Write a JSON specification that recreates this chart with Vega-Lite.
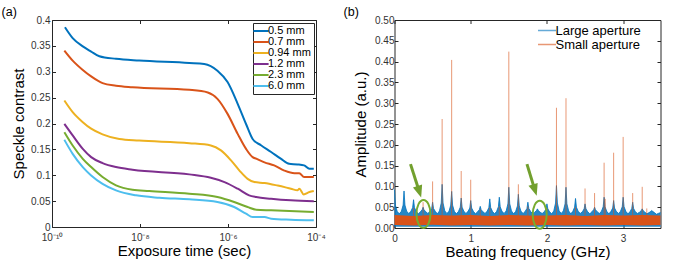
{
 "$schema": "https://vega.github.io/schema/vega-lite/v6.json",
 "padding": {"left": 1, "top": 5, "right": 0, "bottom": 0},
 "spacing": 16.5,
 "config": {
  "font": "Liberation Sans",
  "view": {"stroke": "#262626", "strokeWidth": 1},
  "axis": {"grid": false, "domain": false, "labelFontSize": 10, "labelColor": "#333333", "tickColor": "#262626", "titleFontSize": 15, "titleFontWeight": "normal", "titleColor": "#000000", "labelFlush": false, "labelOverlap": false, "tickSize": -3.5, "tickWidth": 1},
  "title": {"fontSize": 12.5, "fontWeight": "normal", "anchor": "start", "frame": "bounds", "offset": -3, "dx": -10, "color": "#000000"}
 },
 "resolve": {"scale": {"color": "independent"}, "legend": {"color": "independent"}},
 "datasets": {
  "contrast": [
   {"s":"0.5 mm","t":1.97e-10,"c":0.386},{"s":"0.5 mm","t":2.95e-10,"c":0.365},{"s":"0.5 mm","t":5.01e-10,"c":0.349},{"s":"0.5 mm","t":7.76e-10,"c":0.339},{"s":"0.5 mm","t":1.19e-9,"c":0.330},{"s":"0.5 mm","t":2.85e-9,"c":0.325},{"s":"0.5 mm","t":9.55e-9,"c":0.3216},{"s":"0.5 mm","t":1.32e-7,"c":0.317},{"s":"0.5 mm","t":2.88e-7,"c":0.315},{"s":"0.5 mm","t":5.75e-7,"c":0.302},{"s":"0.5 mm","t":9.77e-7,"c":0.280},{"s":"0.5 mm","t":1.66e-6,"c":0.238},{"s":"0.5 mm","t":2.57e-6,"c":0.199},{"s":"0.5 mm","t":3.63e-6,"c":0.170},{"s":"0.5 mm","t":5.62e-6,"c":0.158},{"s":"0.5 mm","t":9.55e-6,"c":0.145},{"s":"0.5 mm","t":1.58e-5,"c":0.132},{"s":"0.5 mm","t":2.45e-5,"c":0.122},{"s":"0.5 mm","t":3.80e-5,"c":0.121},{"s":"0.5 mm","t":5.37e-5,"c":0.119},{"s":"0.5 mm","t":7.08e-5,"c":0.1125},{"s":"0.5 mm","t":8.91e-5,"c":0.1125},
   {"s":"0.7 mm","t":1.91e-10,"c":0.341},{"s":"0.7 mm","t":2.95e-10,"c":0.3216},{"s":"0.7 mm","t":5.01e-10,"c":0.3035},{"s":"0.7 mm","t":7.76e-10,"c":0.291},{"s":"0.7 mm","t":1.41e-9,"c":0.278},{"s":"0.7 mm","t":2.85e-9,"c":0.273},{"s":"0.7 mm","t":6.76e-9,"c":0.270},{"s":"0.7 mm","t":1.32e-7,"c":0.265},{"s":"0.7 mm","t":3.47e-7,"c":0.260},{"s":"0.7 mm","t":5.75e-7,"c":0.2476},{"s":"0.7 mm","t":9.77e-7,"c":0.2186},{"s":"0.7 mm","t":1.66e-6,"c":0.180},{"s":"0.7 mm","t":2.57e-6,"c":0.151},{"s":"0.7 mm","t":3.63e-6,"c":0.135},{"s":"0.7 mm","t":4.37e-6,"c":0.132},{"s":"0.7 mm","t":6.76e-6,"c":0.125},{"s":"0.7 mm","t":1.12e-5,"c":0.119},{"s":"0.7 mm","t":1.91e-5,"c":0.109},{"s":"0.7 mm","t":3.24e-5,"c":0.104},{"s":"0.7 mm","t":4.17e-5,"c":0.104},{"s":"0.7 mm","t":5.37e-5,"c":0.0965},{"s":"0.7 mm","t":8.91e-5,"c":0.0965},
   {"s":"0.94 mm","t":1.91e-10,"c":0.2444},{"s":"0.94 mm","t":2.95e-10,"c":0.222},{"s":"0.94 mm","t":5.01e-10,"c":0.2026},{"s":"0.94 mm","t":7.76e-10,"c":0.190},{"s":"0.94 mm","t":1.41e-9,"c":0.179},{"s":"0.94 mm","t":3.39e-9,"c":0.170},{"s":"0.94 mm","t":9.55e-9,"c":0.167},{"s":"0.94 mm","t":1.32e-7,"c":0.162},{"s":"0.94 mm","t":4.07e-7,"c":0.1576},{"s":"0.94 mm","t":6.92e-7,"c":0.148},{"s":"0.94 mm","t":1.17e-6,"c":0.1287},{"s":"0.94 mm","t":1.82e-6,"c":0.109},{"s":"0.94 mm","t":2.79e-6,"c":0.093},{"s":"0.94 mm","t":3.98e-6,"c":0.0868},{"s":"0.94 mm","t":6.76e-6,"c":0.085},{"s":"0.94 mm","t":1.35e-5,"c":0.080},{"s":"0.94 mm","t":2.69e-5,"c":0.074},{"s":"0.94 mm","t":3.80e-5,"c":0.071},{"s":"0.94 mm","t":4.17e-5,"c":0.074},{"s":"0.94 mm","t":5.25e-5,"c":0.063},{"s":"0.94 mm","t":7.08e-5,"c":0.0675},{"s":"0.94 mm","t":8.91e-5,"c":0.0695},
   {"s":"1.2 mm","t":1.91e-10,"c":0.1993},{"s":"1.2 mm","t":2.95e-10,"c":0.177},{"s":"1.2 mm","t":5.01e-10,"c":0.151},{"s":"1.2 mm","t":7.76e-10,"c":0.135},{"s":"1.2 mm","t":1.41e-9,"c":0.1235},{"s":"1.2 mm","t":2.85e-9,"c":0.1158},{"s":"1.2 mm","t":6.76e-9,"c":0.1106},{"s":"1.2 mm","t":1.32e-7,"c":0.1017},{"s":"1.2 mm","t":4.07e-7,"c":0.0951},{"s":"1.2 mm","t":8.32e-7,"c":0.0868},{"s":"1.2 mm","t":1.66e-6,"c":0.074},{"s":"1.2 mm","t":3.02e-6,"c":0.0612},{"s":"1.2 mm","t":4.37e-6,"c":0.0579},{"s":"1.2 mm","t":9.55e-6,"c":0.0546},{"s":"1.2 mm","t":2.69e-5,"c":0.0515},{"s":"1.2 mm","t":8.91e-5,"c":0.0496},
   {"s":"2.3 mm","t":1.91e-10,"c":0.1833},{"s":"2.3 mm","t":2.95e-10,"c":0.1576},{"s":"2.3 mm","t":5.01e-10,"c":0.1318},{"s":"2.3 mm","t":7.76e-10,"c":0.1158},{"s":"2.3 mm","t":1.41e-9,"c":0.0965},{"s":"2.3 mm","t":2.85e-9,"c":0.0805},{"s":"2.3 mm","t":6.76e-9,"c":0.072},{"s":"2.3 mm","t":1.62e-8,"c":0.0695},{"s":"2.3 mm","t":1.32e-7,"c":0.0643},{"s":"2.3 mm","t":5.75e-7,"c":0.0579},{"s":"2.3 mm","t":1.38e-6,"c":0.0482},{"s":"2.3 mm","t":2.79e-6,"c":0.0386},{"s":"2.3 mm","t":4.37e-6,"c":0.0334},{"s":"2.3 mm","t":9.55e-6,"c":0.0322},{"s":"2.3 mm","t":8.91e-5,"c":0.0289},
   {"s":"6.0 mm","t":1.91e-10,"c":0.1684},{"s":"6.0 mm","t":2.95e-10,"c":0.1414},{"s":"6.0 mm","t":5.01e-10,"c":0.1158},{"s":"6.0 mm","t":7.76e-10,"c":0.0997},{"s":"6.0 mm","t":1.41e-9,"c":0.0835},{"s":"6.0 mm","t":2.85e-9,"c":0.0708},{"s":"6.0 mm","t":8.13e-9,"c":0.0612},{"s":"6.0 mm","t":2.75e-8,"c":0.0565},{"s":"6.0 mm","t":1.32e-7,"c":0.0534},{"s":"6.0 mm","t":5.75e-7,"c":0.0482},{"s":"6.0 mm","t":1.38e-6,"c":0.0386},{"s":"6.0 mm","t":2.57e-6,"c":0.0257},{"s":"6.0 mm","t":3.63e-6,"c":0.0193},{"s":"6.0 mm","t":6.76e-6,"c":0.0193},{"s":"6.0 mm","t":9.55e-6,"c":0.016},{"s":"6.0 mm","t":2.69e-5,"c":0.0141},{"s":"6.0 mm","t":8.91e-5,"c":0.0129}
  ],
  "large": [
   {"f":0,"a":0.092},{"f":0.012,"a":0.055},{"f":0.035,"a":0.04},{"f":0.0625,"a":0.034},
   {"f":0.09,"a":0.04},{"f":0.113,"a":0.055},{"f":0.125,"a":0.089},{"f":0.137,"a":0.055},{"f":0.16,"a":0.04},{"f":0.1875,"a":0.035},
   {"f":0.215,"a":0.04},{"f":0.238,"a":0.049},{"f":0.25,"a":0.068},{"f":0.262,"a":0.049},{"f":0.285,"a":0.04},{"f":0.3125,"a":0.034},
   {"f":0.34,"a":0.039},{"f":0.363,"a":0.044},{"f":0.375,"a":0.05},{"f":0.387,"a":0.044},{"f":0.41,"a":0.039},{"f":0.4375,"a":0.035},
   {"f":0.465,"a":0.04},{"f":0.488,"a":0.047},{"f":0.5,"a":0.062},{"f":0.512,"a":0.047},{"f":0.535,"a":0.04},{"f":0.5625,"a":0.034},
   {"f":0.59,"a":0.041},{"f":0.613,"a":0.06},{"f":0.625,"a":0.105},{"f":0.637,"a":0.06},{"f":0.66,"a":0.041},{"f":0.6875,"a":0.035},
   {"f":0.715,"a":0.04},{"f":0.738,"a":0.055},{"f":0.75,"a":0.088},{"f":0.762,"a":0.055},{"f":0.785,"a":0.04},{"f":0.8125,"a":0.034},
   {"f":0.84,"a":0.04},{"f":0.863,"a":0.05},{"f":0.875,"a":0.072},{"f":0.887,"a":0.05},{"f":0.91,"a":0.04},{"f":0.9375,"a":0.035},
   {"f":0.965,"a":0.04},{"f":0.988,"a":0.048},{"f":1.0,"a":0.066},{"f":1.012,"a":0.048},{"f":1.035,"a":0.04},{"f":1.0625,"a":0.034},
   {"f":1.09,"a":0.039},{"f":1.113,"a":0.044},{"f":1.125,"a":0.052},{"f":1.137,"a":0.044},{"f":1.16,"a":0.039},{"f":1.1875,"a":0.035},
   {"f":1.215,"a":0.04},{"f":1.238,"a":0.049},{"f":1.25,"a":0.07},{"f":1.262,"a":0.049},{"f":1.285,"a":0.04},{"f":1.3125,"a":0.034},
   {"f":1.34,"a":0.04},{"f":1.363,"a":0.051},{"f":1.375,"a":0.074},{"f":1.387,"a":0.051},{"f":1.41,"a":0.04},{"f":1.4375,"a":0.035},
   {"f":1.465,"a":0.041},{"f":1.488,"a":0.058},{"f":1.5,"a":0.098},{"f":1.512,"a":0.058},{"f":1.535,"a":0.041},{"f":1.5625,"a":0.034},
   {"f":1.59,"a":0.04},{"f":1.613,"a":0.053},{"f":1.625,"a":0.081},{"f":1.637,"a":0.053},{"f":1.66,"a":0.04},{"f":1.6875,"a":0.035},
   {"f":1.715,"a":0.04},{"f":1.738,"a":0.047},{"f":1.75,"a":0.062},{"f":1.762,"a":0.047},{"f":1.785,"a":0.04},{"f":1.8125,"a":0.034},
   {"f":1.84,"a":0.038},{"f":1.863,"a":0.042},{"f":1.875,"a":0.046},{"f":1.887,"a":0.042},{"f":1.91,"a":0.038},{"f":1.9375,"a":0.035},
   {"f":1.965,"a":0.039},{"f":1.988,"a":0.046},{"f":2.0,"a":0.058},{"f":2.012,"a":0.046},{"f":2.035,"a":0.039},{"f":2.0625,"a":0.034},
   {"f":2.09,"a":0.041},{"f":2.113,"a":0.06},{"f":2.125,"a":0.102},{"f":2.137,"a":0.06},{"f":2.16,"a":0.041},{"f":2.1875,"a":0.035},
   {"f":2.215,"a":0.041},{"f":2.238,"a":0.058},{"f":2.25,"a":0.098},{"f":2.262,"a":0.058},{"f":2.285,"a":0.041},{"f":2.3125,"a":0.034},
   {"f":2.34,"a":0.04},{"f":2.363,"a":0.05},{"f":2.375,"a":0.071},{"f":2.387,"a":0.05},{"f":2.41,"a":0.04},{"f":2.4375,"a":0.035},
   {"f":2.465,"a":0.039},{"f":2.488,"a":0.046},{"f":2.5,"a":0.058},{"f":2.512,"a":0.046},{"f":2.535,"a":0.039},{"f":2.5625,"a":0.034},
   {"f":2.59,"a":0.039},{"f":2.613,"a":0.044},{"f":2.625,"a":0.05},{"f":2.637,"a":0.044},{"f":2.66,"a":0.039},{"f":2.6875,"a":0.035},
   {"f":2.715,"a":0.04},{"f":2.738,"a":0.051},{"f":2.75,"a":0.074},{"f":2.762,"a":0.051},{"f":2.785,"a":0.04},{"f":2.8125,"a":0.034},
   {"f":2.84,"a":0.04},{"f":2.863,"a":0.048},{"f":2.875,"a":0.066},{"f":2.887,"a":0.048},{"f":2.91,"a":0.04},{"f":2.9375,"a":0.035},
   {"f":2.965,"a":0.04},{"f":2.988,"a":0.051},{"f":3.0,"a":0.074},{"f":3.012,"a":0.051},{"f":3.035,"a":0.04},{"f":3.0625,"a":0.034},
   {"f":3.09,"a":0.039},{"f":3.113,"a":0.047},{"f":3.125,"a":0.062},{"f":3.137,"a":0.047},{"f":3.16,"a":0.039},{"f":3.1875,"a":0.035},
   {"f":3.215,"a":0.038},{"f":3.238,"a":0.042},{"f":3.25,"a":0.046},{"f":3.262,"a":0.042},{"f":3.285,"a":0.038},{"f":3.3125,"a":0.034},
   {"f":3.34,"a":0.037},{"f":3.363,"a":0.04},{"f":3.375,"a":0.042},{"f":3.387,"a":0.04},{"f":3.41,"a":0.037},{"f":3.4375,"a":0.033},
   {"f":3.46,"a":0.035},{"f":3.49,"a":0.037}
  ],
  "band": [
   {"f":0,"lo":0.007,"hi":0.031},{"f":0.25,"lo":0.006,"hi":0.029},{"f":0.5,"lo":0.008,"hi":0.031},{"f":0.75,"lo":0.006,"hi":0.03},{"f":1.0,"lo":0.007,"hi":0.031},{"f":1.25,"lo":0.006,"hi":0.029},{"f":1.5,"lo":0.007,"hi":0.031},{"f":1.75,"lo":0.006,"hi":0.03},{"f":2.0,"lo":0.007,"hi":0.03},{"f":2.25,"lo":0.006,"hi":0.031},{"f":2.5,"lo":0.007,"hi":0.029},{"f":2.75,"lo":0.006,"hi":0.031},{"f":3.0,"lo":0.007,"hi":0.03},{"f":3.25,"lo":0.006,"hi":0.031},{"f":3.49,"lo":0.007,"hi":0.03}
  ],
  "spikes": [
   {"f":0.25,"v":0.048},{"f":0.375,"v":0.062},{"f":0.5,"v":0.112},{"f":0.625,"v":0.262},{"f":0.75,"v":0.404},{"f":0.875,"v":0.137},{"f":1.0,"v":0.116},{"f":1.125,"v":0.045},{"f":1.25,"v":0.05},{"f":1.375,"v":0.052},{"f":1.5,"v":0.424},{"f":1.625,"v":0.105},{"f":1.75,"v":0.052},{"f":2.0,"v":0.048},{"f":2.125,"v":0.289},{"f":2.25,"v":0.312},{"f":2.375,"v":0.05},{"f":2.5,"v":0.095},{"f":2.625,"v":0.084},{"f":2.75,"v":0.157},{"f":2.765,"v":0.07},{"f":2.875,"v":0.181},{"f":3.0,"v":0.219},{"f":3.125,"v":0.084},{"f":3.25,"v":0.099},{"f":3.31,"v":0.047}
  ],
  "ellipses": [{"f":0.38,"v":0.0336},{"f":1.905,"v":0.0317}],
  "arrows": [{"f":0.21,"v":0.1535,"f2":0.326,"v2":0.0873},{"f":1.738,"v":0.1535,"f2":1.842,"v2":0.0911}]
 },
 "hconcat": [
  {
   "width": 264, "height": 207,
   "title": {"text": "(a)"},
   "resolve": {"axis": {"x": "independent", "y": "independent"}},
   "layer": [
    {
     "data": {"name": "contrast"},
     "mark": {"type": "line", "strokeWidth": 2, "interpolate": "monotone"},
     "encoding": {
      "x": {"field": "t", "type": "quantitative", "scale": {"type": "log", "domain": [1e-10, 1e-4], "nice": false},
            "axis": {"values": [1e-10, 1e-8, 1e-6, 1e-4], "labelExpr": "datum.value < 1e-9 ? '10⁻¹⁰' : datum.value < 1e-7 ? '10⁻⁸' : datum.value < 1e-5 ? '10⁻⁶' : '10⁻⁴'", "title": "Exposure time (sec)", "labelPadding": 8.5, "titlePadding": 1.5}},
      "y": {"field": "c", "type": "quantitative", "scale": {"domain": [0, 0.4], "nice": false},
            "axis": {"values": [0, 0.05, 0.1, 0.15, 0.2, 0.25, 0.3, 0.35, 0.4], "format": "~g", "title": "Speckle contrast", "labelPadding": 5.5, "titlePadding": 4}},
      "color": {"field": "s", "type": "nominal",
                "scale": {"domain": ["0.5 mm", "0.7 mm", "0.94 mm", "1.2 mm", "2.3 mm", "6.0 mm"], "range": ["#0072BD", "#D95319", "#EDB120", "#7E2F8E", "#77AC30", "#4DBEEE"]},
                "legend": {"title": null, "orient": "top-right", "offset": 2.5, "padding": 2.5, "strokeColor": "#262626", "fillColor": "white", "labelFontSize": 11, "labelColor": "#000000", "symbolType": "M-1.9,0H1.9", "symbolSize": 64, "symbolStrokeWidth": 2, "rowPadding": -6.5, "labelOffset": 1.5}}
     }
    },
    {
     "data": {"name": "contrast"},
     "mark": {"type": "point", "opacity": 0},
     "encoding": {
      "x": {"field": "t", "type": "quantitative", "scale": {"type": "log", "domain": [1e-10, 1e-4], "nice": false},
            "axis": {"orient": "top", "values": [1e-10, 1e-8, 1e-6, 1e-4], "labels": false, "title": null}},
      "y": {"field": "c", "type": "quantitative",
            "axis": {"orient": "right", "values": [0, 0.05, 0.1, 0.15, 0.2, 0.25, 0.3, 0.35, 0.4], "labels": false, "title": null}}
     }
    }
   ]
  },
  {
   "width": 266, "height": 208,
   "title": {"text": "(b)"},
   "resolve": {"axis": {"x": "independent", "y": "independent"}},
   "layer": [
    {
     "data": {"name": "large"},
     "mark": {"type": "area", "color": "#0072BD", "opacity": 0.85},
     "encoding": {
      "x": {"field": "f", "type": "quantitative", "scale": {"domain": [0, 3.49], "nice": false},
            "axis": {"values": [0, 1, 2, 3], "title": "Beating frequency (GHz)", "labelPadding": 8.5, "titlePadding": 1.5}},
      "y": {"field": "a", "type": "quantitative", "scale": {"domain": [0, 0.5], "nice": false},
            "axis": {"values": [0, 0.05, 0.1, 0.15, 0.2, 0.25, 0.3, 0.35, 0.4, 0.45, 0.5], "format": ".2f", "title": "Amplitude (a.u.)", "labelPadding": 4, "titlePadding": 6}},
      "y2": {"datum": 0.003}
     }
    },
    {
     "data": {"name": "large"},
     "mark": {"type": "line", "strokeWidth": 0.8},
     "encoding": {
      "x": {"field": "f", "type": "quantitative", "axis": null},
      "y": {"field": "a", "type": "quantitative", "axis": null},
      "color": {"datum": "Large aperture",
                "scale": {"domain": ["Large aperture", "Small aperture"], "range": ["#0072BD", "#D95319"]},
                "legend": {"title": null, "orient": "none", "legendX": 146, "legendY": 4, "padding": 0, "labelFontSize": 13, "labelColor": "#000000", "symbolType": "M-2,0H2", "symbolSize": 81, "symbolStrokeWidth": 1.5, "symbolOpacity": 0.5, "rowPadding": -2.3, "labelOffset": 2}}
     }
    },
    {
     "data": {"name": "band"},
     "mark": {"type": "area", "color": "#D95319"},
     "encoding": {
      "x": {"field": "f", "type": "quantitative", "axis": null},
      "y": {"field": "lo", "type": "quantitative", "axis": null},
      "y2": {"field": "hi"}
     }
    },
    {
     "data": {"name": "spikes"},
     "mark": {"type": "rule", "strokeWidth": 1, "opacity": 0.6},
     "encoding": {
      "x": {"field": "f", "type": "quantitative", "axis": null},
      "y": {"field": "v", "type": "quantitative", "axis": null},
      "y2": {"datum": 0.02},
      "color": {"datum": "Small aperture"}
     }
    },
    {
     "data": {"name": "ellipses"},
     "mark": {"type": "point", "shape": "M0,-1C0.276,-1 0.5,-0.552 0.5,0C0.5,0.552 0.276,1 0,1C-0.276,1 -0.5,0.552 -0.5,0C-0.5,-0.552 -0.276,-1 0,-1Z", "size": 784, "filled": false, "color": "#77AC30", "strokeWidth": 2, "opacity": 1},
     "encoding": {
      "x": {"field": "f", "type": "quantitative", "axis": null},
      "y": {"field": "v", "type": "quantitative", "axis": null}
     }
    },
    {
     "data": {"name": "arrows"},
     "mark": {"type": "rule", "color": "#72A02E", "strokeWidth": 3},
     "encoding": {
      "x": {"field": "f", "type": "quantitative", "axis": null},
      "y": {"field": "v", "type": "quantitative", "axis": null},
      "x2": {"field": "f2"},
      "y2": {"field": "v2"}
     }
    },
    {
     "data": {"name": "arrows"},
     "mark": {"type": "point", "shape": "M-0.8,-1L0.8,-1L0,1Z", "size": 144, "filled": true, "color": "#72A02E", "opacity": 1, "angle": -17.5},
     "encoding": {
      "x": {"field": "f2", "type": "quantitative", "axis": null},
      "y": {"field": "v2", "type": "quantitative", "axis": null}
     }
    },
    {
     "data": {"name": "ellipses"},
     "mark": {"type": "point", "opacity": 0},
     "encoding": {
      "x": {"field": "f", "type": "quantitative", "axis": {"orient": "top", "values": [0, 1, 2, 3], "labels": false, "title": null}},
      "y": {"field": "v", "type": "quantitative", "axis": {"orient": "right", "values": [0, 0.05, 0.1, 0.15, 0.2, 0.25, 0.3, 0.35, 0.4, 0.45, 0.5], "labels": false, "title": null}}
     }
    }
   ]
  }
 ]
}
